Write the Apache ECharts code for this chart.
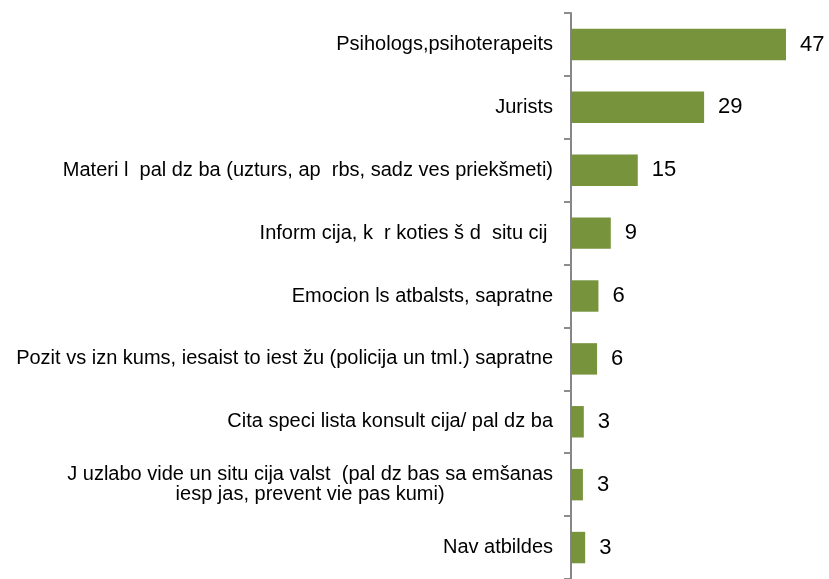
<!DOCTYPE html>
<html>
<head>
<meta charset="utf-8">
<script src="https://cdn.jsdelivr.net/npm/echarts@6/dist/echarts.min.js"></script>
<style>
  html, body { margin: 0; padding: 0; background: #fff; }
  #barChart { width: 829px; height: 579px; }
</style>
</head>
<body>
<div id="barChart"></div>
<script>
// kategorijas (burti ar garumzīmēm attēlā nav redzami)
const categories = [
  "Psihologs,psihoterapeits",
  "Jurists",
  "Materi l  pal dz ba (uzturs, ap  rbs, sadz ves priekšmeti)",
  "Inform cija, k  r koties š d  situ cij ",
  "Emocion ls atbalsts, sapratne",
  "Pozit vs izn kums, iesaist to iest žu (policija un tml.) sapratne",
  "Cita speci lista konsult cija/ pal dz ba",
  "J uzlabo vide un situ cija valst  (pal dz bas sa emšanas\niesp jas, prevent vie pas kumi)",
  "Nav atbildes"
];
// joslu garumi no attēla
const values = [47, 29.1, 14.6, 8.7, 6.0, 5.7, 2.8, 2.6, 3.1];
// uzraksti pie joslām
const valueLabels = ["47", "29", "15", "9", "6", "6", "3", "3", "3"];

const font = "'Liberation Sans', Arial, sans-serif";

let myChart = echarts.init(document.getElementById("barChart"));
let option = {
  animation: false,
  grid: {
    left: 571,
    top: 13,
    width: 228.7,
    height: 570
  },
  xAxis: {
    type: "value",
    min: 0,
    max: 50,
    show: false
  },
  yAxis: {
    type: "category",
    inverse: true,
    data: categories,
    axisLine: {
      lineStyle: { color: "#868686", width: 2 } //ass krāsa
    },
    axisTick: {
      show: true,
      length: 7,
      lineStyle: { color: "#8c8c8c", width: 2 }
    },
    axisLabel: {
      margin: 18,
      interval: 0,
      formatter: (v) => "{c|" + v + "}",
      rich: {
        c: {
          align: "center",
          fontSize: 20,
          lineHeight: 20,
          fontFamily: font,
          color: "#000"
        }
      }
    }
  },
  series: [
    {
      type: "bar",
      data: values,
      barCategoryGap: "50%",
      itemStyle: { color: "#77933C" },
      label: {
        show: true,
        position: "right",
        distance: 14,
        fontSize: 22,
        fontFamily: font,
        color: "#000",
        formatter: (p) => valueLabels[p.dataIndex]
      }
    }
  ]
};
myChart.setOption(option);
</script>
</body>
</html>
